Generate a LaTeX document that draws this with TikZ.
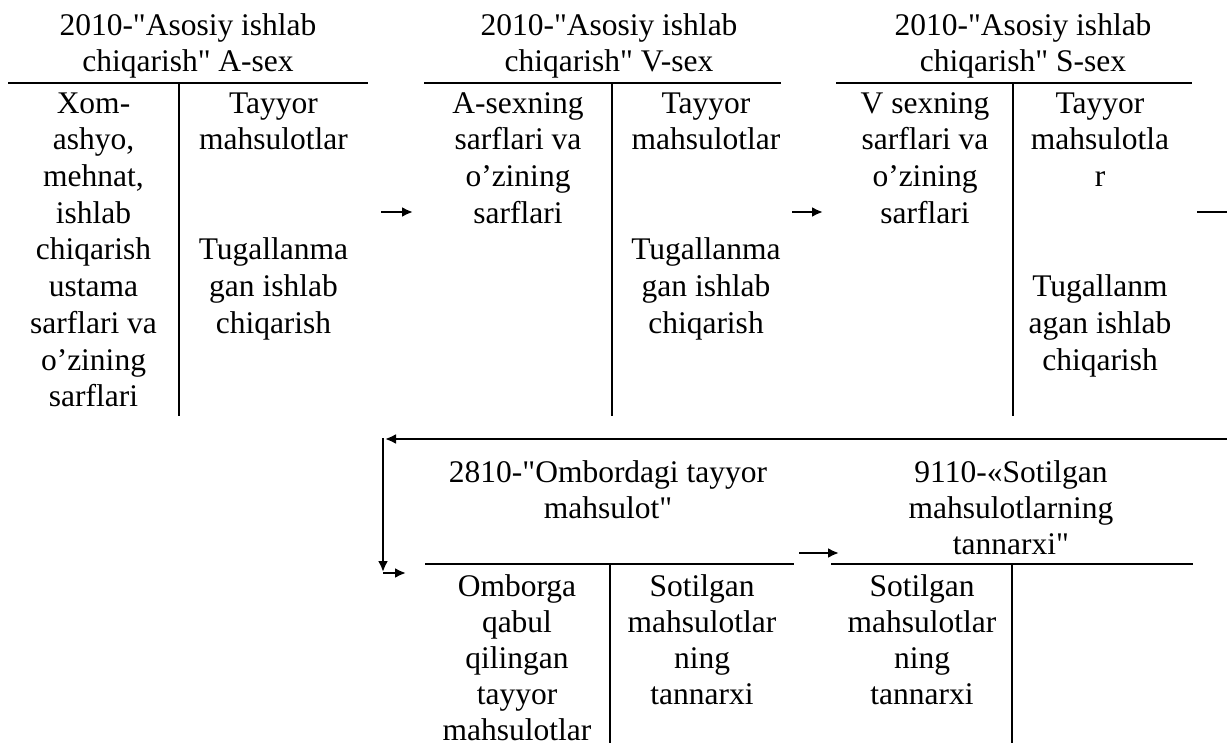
\documentclass[tikz,border=0pt]{standalone}
\usepackage{fontspec}
\setmainfont{Liberation Serif}[Ligatures=TeXOff]
\usetikzlibrary{arrows.meta}
\newcommand\cellfont{\fontsize{31.5pt}{36.7pt}\selectfont}
\newcommand\lowfont{\fontsize{31.5pt}{36pt}\selectfont}
\begin{document}
\begin{tikzpicture}[x=1pt,y=-1pt,
  txt/.style={anchor=north, inner sep=0pt, align=center, font=\cellfont, yshift=25.69pt},
  lowtxt/.style={anchor=north, inner sep=0pt, align=center, font=\lowfont, yshift=25.2pt},
  rule/.style={line width=2.3pt},
  flow/.style={line width=2.3pt, -{Latex[length=11pt,width=10pt]}}]
\useasboundingbox (0,0) rectangle (1227,743);

% ---- account 2010, shop A ----
\node[txt] (aTitle) at (188,35) {\strut 2010-"Asosiy ishlab\\chiqarish" A-sex};
\draw[rule] (8,82.7) -- (368,82.7);
\draw[rule] (179,82.7) -- (179,416);
\node[txt] (aDebit) at (93.5,113) {\strut Xom-\\ashyo,\\mehnat,\\ishlab\\chiqarish\\ustama\\sarflari va\\o’zining\\sarflari};
\node[txt] (aCredit1) at (273.5,113) {\strut Tayyor\\mahsulotlar};
\node[txt] (aCredit2) at (273.5,259.8) {\strut Tugallanma\\gan ishlab\\chiqarish};

% ---- account 2010, shop V ----
\node[txt] (vTitle) at (609,35) {\strut 2010-"Asosiy ishlab\\chiqarish" V-sex};
\draw[rule] (424,82.7) -- (781,82.7);
\draw[rule] (612,82.7) -- (612,416);
\node[txt] (vDebit) at (518,113) {\strut A-sexning\\sarflari va\\o’zining\\sarflari};
\node[txt] (vCredit1) at (706,113) {\strut Tayyor\\mahsulotlar};
\node[txt] (vCredit2) at (706,259.8) {\strut Tugallanma\\gan ishlab\\chiqarish};

% ---- account 2010, shop S ----
\node[txt] (sTitle) at (1023,35) {\strut 2010-"Asosiy ishlab\\chiqarish" S-sex};
\draw[rule] (836,82.7) -- (1192,82.7);
\draw[rule] (1013,82.7) -- (1013,416);
\node[txt] (sDebit) at (925,113) {\strut V sexning\\sarflari va\\o’zining\\sarflari};
\node[txt] (sCredit1) at (1100,113) {\strut Tayyor\\mahsulotla\\r};
\node[txt] (sCredit2) at (1100,296.5) {\strut Tugallanm\\agan ishlab\\chiqarish};

% ---- flows between the shops ----
\coordinate (f1a) at (381,212);  \coordinate (f1b) at (413,212);
\coordinate (f2a) at (792,212);  \coordinate (f2b) at (823,212);
\coordinate (f3a) at (1197,212); \coordinate (f3b) at (1238,212);
\draw[flow] (f1a) -- (f1b);
\draw[flow] (f2a) -- (f2b);
\draw[flow] (f3a) -- (f3b);

% ---- return line to the warehouse account ----
\coordinate (rStart) at (1240,439);
\coordinate (rCorner) at (385,439);
\coordinate (rDown) at (383,438);
\coordinate (rBottom) at (383,572);
\coordinate (rFoot) at (383,573);
\coordinate (rIn) at (406,573);
\draw[flow] (rStart) -- (rCorner);
\draw[flow] (rDown) -- (rBottom);
\draw[flow] (rFoot) -- (rIn);

% ---- account 2810 ----
\node[lowtxt] (wTitle) at (608,482) {\strut 2810-"Ombordagi tayyor\\mahsulot"};
\draw[rule] (425,564) -- (794,564);
\draw[rule] (610,564) -- (610,745);
\node[lowtxt] (wDebit) at (517,596) {\strut Omborga\\qabul\\qilingan\\tayyor\\mahsulotlar};
\node[lowtxt] (wCredit) at (702,596) {\strut Sotilgan\\mahsulotlar\\ning\\tannarxi};

% ---- account 9110 ----
\node[lowtxt] (cTitle) at (1011,482) {\strut 9110-«Sotilgan\\mahsulotlarning\\tannarxi"};
\draw[rule] (831,564) -- (1193,564);
\draw[rule] (1012,564) -- (1012,745);
\node[lowtxt] (cDebit) at (922,596) {\strut Sotilgan\\mahsulotlar\\ning\\tannarxi};

\coordinate (f4a) at (799,553); \coordinate (f4b) at (839,553);
\draw[flow] (f4a) -- (f4b);
\end{tikzpicture}
\end{document}
